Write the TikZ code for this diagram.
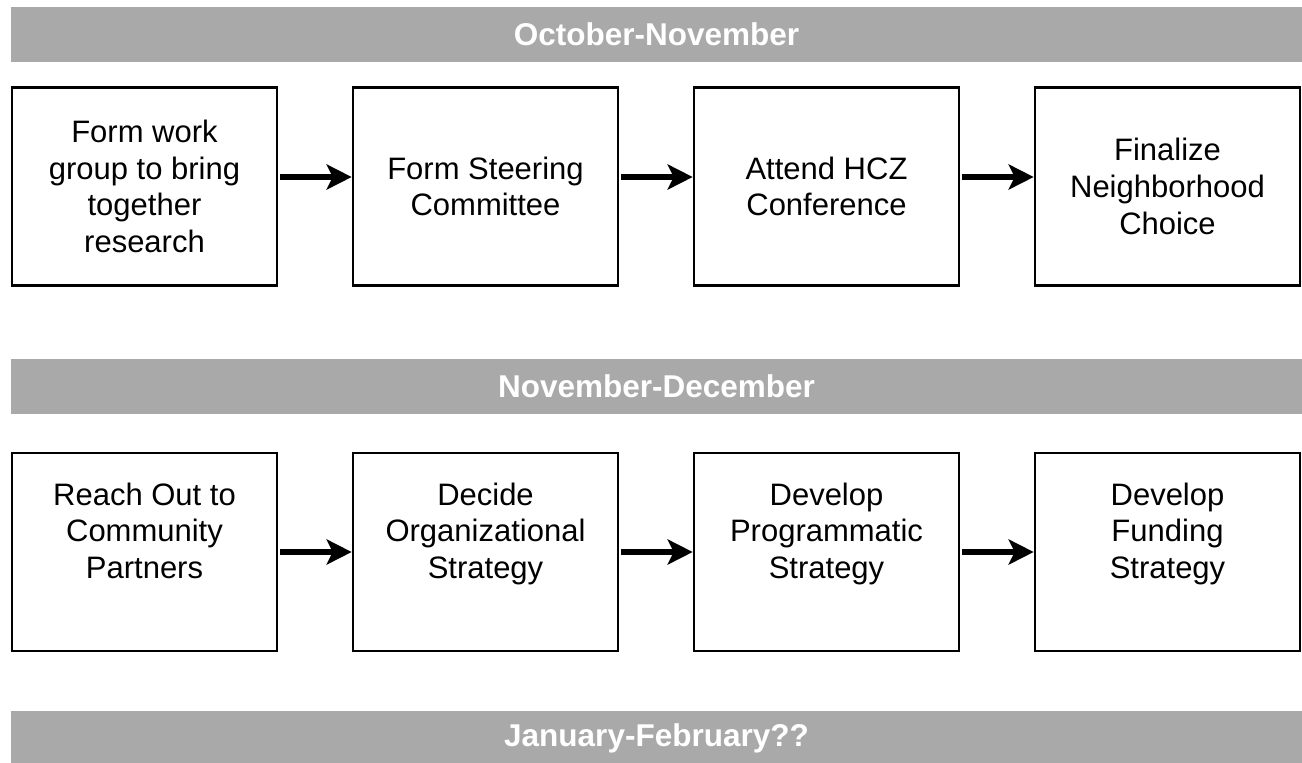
\documentclass[tikz,border=0pt]{standalone}
\usepackage{fontspec}
\setmainfont{Liberation Sans}
\usepackage{xcolor}
\usetikzlibrary{arrows.meta}
\definecolor{bargray}{HTML}{A9A9A9}

\begin{document}
\begin{tikzpicture}[
    x=0.5pt, y=-0.5pt,
    stepbox/.style={
        draw, line width=1.3pt,
        minimum width=132.5pt,
        minimum height=99pt,
        align=center, inner sep=2pt,
        font=\fontsize{15.5}{18.3}\selectfont
    },
    period/.style={
        fill=bargray, text=white,
        minimum width=645.5pt, minimum height=27.5pt,
        font=\fontsize{15.75}{17}\selectfont\bfseries
    },
    flow/.style={
        line width=3pt, shorten <=1pt,
        -{Stealth[length=12.5pt, width=12.5pt, inset=3pt]}
    }
]
\useasboundingbox (0,0) rectangle (1302,762);

% first period
\node[period] (octnov) at (656.5,34.5) {October-November};
\node[stepbox] (group) at (144.5,186.5)  {Form work\\group to bring\\together\\research};
\node[stepbox] (steer) at (485.5,186.5)  {Form Steering\\Committee};
\node[stepbox] (hcz)   at (826.5,186.5)  {Attend HCZ\\Conference};
\node[stepbox] (hood)  at (1167.5,186.5) {Finalize\\Neighborhood\\Choice};
\draw[flow] ([yshift=4.75pt]group.east) -- ([yshift=4.75pt]steer.west);
\draw[flow] ([yshift=4.75pt]steer.east) -- ([yshift=4.75pt]hcz.west);
\draw[flow] ([yshift=4.75pt]hcz.east)   -- ([yshift=4.75pt]hood.west);

% second period
\node[period] (novdec) at (656.5,386.5) {November-December};
\node[stepbox] (reach) at (144.5,552)  {Reach Out to\\Community\\Partners\\[3pt]\mbox{}};
\node[stepbox] (org)   at (485.5,552)  {Decide\\Organizational\\Strategy\\[3pt]\mbox{}};
\node[stepbox] (prog)  at (826.5,552)  {Develop\\Programmatic\\Strategy\\[3pt]\mbox{}};
\node[stepbox] (fund)  at (1167.5,552) {Develop\\Funding\\Strategy\\[3pt]\mbox{}};
\draw[flow] (reach) -- (org);
\draw[flow] (org)   -- (prog);
\draw[flow] (prog)  -- (fund);

% third period
\node[period] (janfeb) at (656.5,738.5) {January-February??};
\end{tikzpicture}
\end{document}
